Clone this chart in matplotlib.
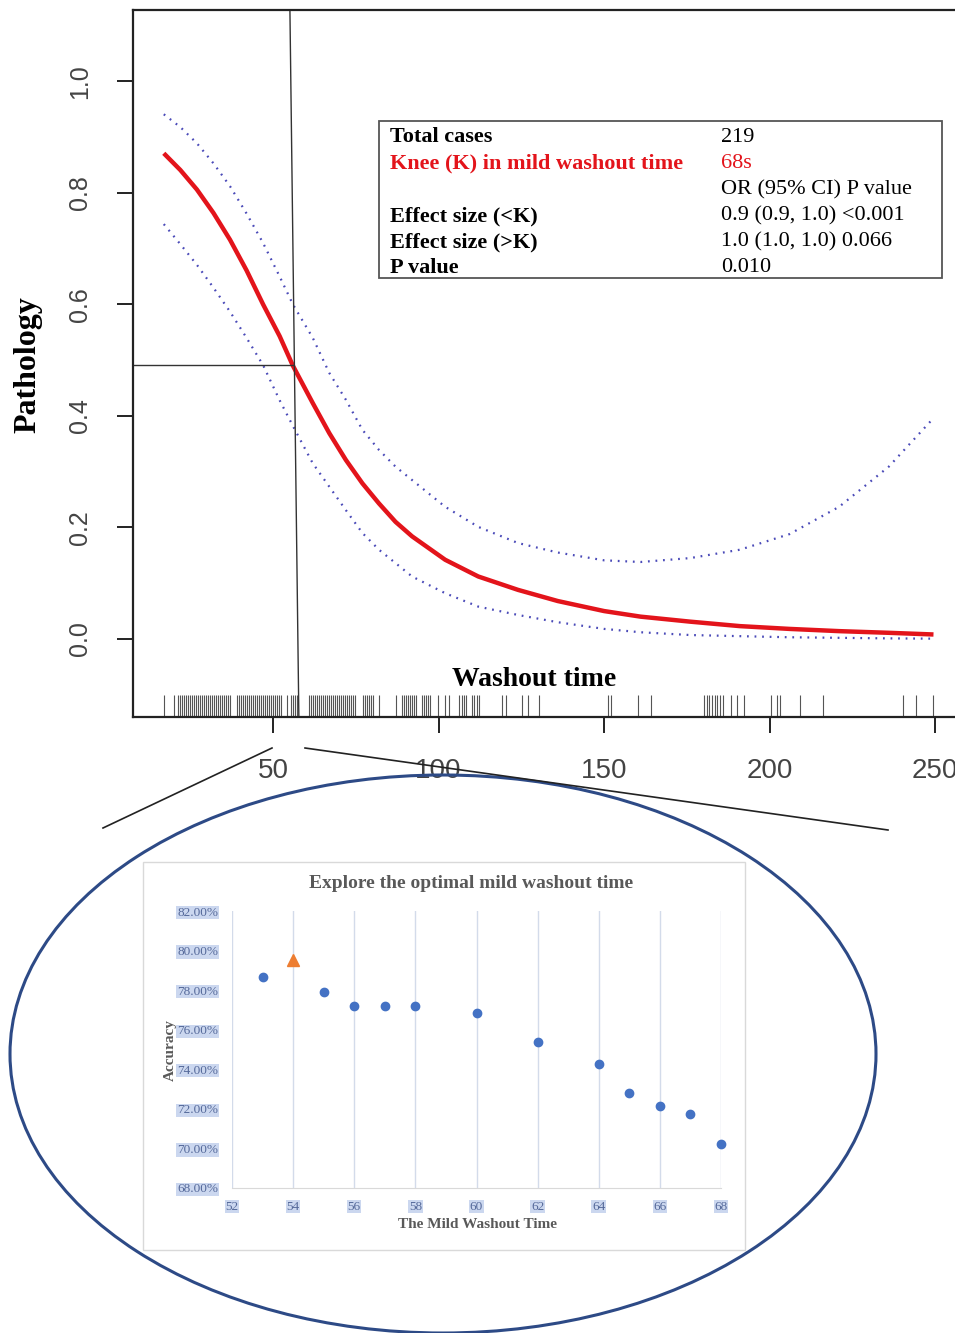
import numpy as np
import matplotlib
matplotlib.use("Agg")
import matplotlib.pyplot as plt
from matplotlib.patches import Ellipse, Rectangle
from matplotlib.lines import Line2D

# ==================================================
# DATOS
# ==================================================
# curva principal + IC 95%
wash_x   = [17, 22, 27, 32, 37, 42, 47, 52, 56, 62, 67, 72, 77, 82, 87, 92, 102, 112, 124,
            136, 150, 161, 176, 191, 206, 221, 236, 249.5]
path_fit = [0.871, 0.841, 0.806, 0.764, 0.716, 0.661, 0.600, 0.543, 0.490, 0.423, 0.369, 0.321,
            0.279, 0.243, 0.210, 0.184, 0.142, 0.112, 0.088, 0.068, 0.050, 0.040, 0.031, 0.023,
            0.018, 0.014, 0.011, 0.008]
ci_upper = [0.941, 0.918, 0.889, 0.853, 0.812, 0.763, 0.710, 0.650, 0.600, 0.540, 0.477, 0.429,
            0.375, 0.339, 0.309, 0.285, 0.237, 0.201, 0.172, 0.155, 0.141, 0.138, 0.145, 0.160,
            0.188, 0.237, 0.309, 0.396]
ci_lower = [0.744, 0.708, 0.671, 0.630, 0.587, 0.540, 0.491, 0.428, 0.382, 0.315, 0.273, 0.231,
            0.190, 0.160, 0.136, 0.112, 0.082, 0.058, 0.043, 0.030, 0.018, 0.012, 0.007, 0.005,
            0.003, 0.002, 0.001, 0.0005]

# rug (observaciones de washout time)
rug_x = [17.1, 20.1,
         21.4, 22.0, 22.6, 23.2, 23.8, 24.4, 25.0, 25.6, 26.2, 26.8, 27.4, 28.0, 28.6, 29.2,
         29.8, 30.4, 31.0, 31.6, 32.2, 32.8, 33.4, 34.0, 34.6, 35.2, 35.8, 36.4, 37.0,
         39.2, 39.8, 40.4, 41.0, 41.6, 42.2, 42.8, 43.4, 44.0, 44.6, 45.2, 45.8, 46.4, 47.0,
         47.6, 48.2, 48.8, 49.4, 50.0, 50.6, 51.2, 51.8, 52.4,
         54.1, 55.3, 55.9, 56.5, 57.1,
         61.0, 61.6, 62.2, 62.8, 63.4, 64.0, 64.6, 65.2, 65.8, 66.4, 67.0, 67.6, 68.2, 68.8,
         69.4, 70.0, 70.6, 71.2, 71.8, 72.4, 73.0, 73.6, 74.2, 74.8,
         77.1, 77.7, 78.3, 78.9, 79.5, 80.1, 82.1, 87.2,
         89.0, 89.6, 90.2, 90.8, 91.4, 92.0, 92.6, 93.2,
         95.0, 95.6, 96.2, 96.8, 97.4, 99.8, 101.8, 103.3,
         106.3, 107.0, 107.6, 108.3, 110.0, 110.8, 111.5, 112.3,
         119.1, 120.4, 125.1, 127.1, 130.2, 151.3, 152.0, 160.1, 164.3,
         180.2, 181.0, 181.8, 182.6, 183.4, 184.2, 185.0, 185.9, 188.3, 190.3, 192.3,
         200.4, 202.2, 203.0, 209.2, 216.1, 240.2, 244.2, 249.3]

knee_top_x, knee_bottom_x = 55.1, 57.8
knee_x, knee_y = 56.1, 0.491

table_left = ["Total cases", "Knee (K) in mild washout time", "",
              "Effect size (<K)", "Effect size (>K)", "P value"]
table_right = ["219", "68s", "OR (95% CI) P value",
               "0.9 (0.9, 1.0) <0.001", "1.0 (1.0, 1.0) 0.066", "0.010"]

# gráfico Excel del zoom
mild_time = [53, 55, 56, 57, 58, 60, 62, 64, 65, 66, 67, 68]
mild_acc  = [78.66, 77.9, 77.2, 77.2, 77.2, 76.84, 75.38, 74.25, 72.8, 72.15, 71.75, 70.2]
best_time, best_acc = 54, 79.5

W, H = 955, 1333
def fx(px):
    return px / W
def fy(py):
    return 1 - py / H

SERIF = ["Liberation Serif", "DejaVu Serif"]
NARROW = ["Liberation Sans Narrow", "Liberation Sans", "DejaVu Sans"]

fig = plt.figure(figsize=(W / 100, H / 100), dpi=100)

# ==================================================
# PANEL SUPERIOR (estilo R)
# ==================================================
ax = fig.add_axes([fx(133), fy(717), (955 - 133) / W, (717 - 10) / H])
ax.set_xlim(7.7, 256.0)
ax.set_ylim(-0.14, 1.128)

ax.plot(wash_x, path_fit, color="#e3141b", lw=3.2, solid_capstyle="butt", solid_joinstyle="round")
ax.plot(wash_x, ci_upper, color="#4a4ab8", lw=1.6, linestyle=(0, (0.8, 2.6)))
ax.plot(wash_x, ci_lower, color="#4a4ab8", lw=1.6, linestyle=(0, (0.8, 2.6)))

ax.vlines(rug_x, 0, 0.031, transform=ax.get_xaxis_transform(), color="#555555", lw=0.8)

ax.plot([knee_top_x, knee_bottom_x], [1.128, -0.14], color="#333333", lw=1.0)
ax.plot([7.7, knee_x], [knee_y, knee_y], color="#333333", lw=1.0)

for s in ["left", "bottom", "top"]:
    ax.spines[s].set_linewidth(1.6)
    ax.spines[s].set_color("#222222")
ax.spines["right"].set_visible(False)

ax.set_xticks([50, 100, 150, 200, 250])
ax.set_yticks([0.0, 0.2, 0.4, 0.6, 0.8, 1.0])
ax.set_yticklabels(["0.0", "0.2", "0.4", "0.6", "0.8", "1.0"])
ax.tick_params(axis="both", length=11.5, width=1.4, color="#222222", labelcolor="#444444")
ax.tick_params(axis="x", pad=18, labelsize=20)
ax.tick_params(axis="y", pad=18, labelsize=18)
for lab in ax.get_xticklabels():
    lab.set_family(NARROW)
for lab in ax.get_yticklabels():
    lab.set_family(NARROW)
    lab.set_rotation(90)
    lab.set_va("center")

fig.text(fx(28), fy(365), "Pathology", rotation=90, ha="center", va="center",
         family=SERIF, weight="bold", fontsize=23)
fig.text(fx(534), fy(679), "Washout time", ha="center", va="center",
         family=SERIF, weight="bold", fontsize=20)

# tabla
fig.add_artist(Rectangle((fx(379), fy(278)), (942 - 379) / W, (278 - 121) / H,
                         transform=fig.transFigure, fill=False,
                         edgecolor="#555555", lw=1.3))
row_y = [137, 163, 190, 216, 242, 268]
for i, (lt, rt) in enumerate(zip(table_left, table_right)):
    col = "#e3141b" if i == 1 else "black"
    fig.text(fx(390), fy(row_y[i]), lt, ha="left", va="center", family=SERIF,
             weight="bold", fontsize=16, color=col)
    fig.text(fx(721), fy(row_y[i]), rt, ha="left", va="center", family=SERIF,
             fontsize=16, color=col)

# lineas de zoom y elipse
fig.add_artist(Line2D([fx(272), fx(103)], [fy(748), fy(828)], color="#222222", lw=1.2))
fig.add_artist(Line2D([fx(305), fx(888)], [fy(748), fy(830)], color="#222222", lw=1.2))
fig.add_artist(Ellipse((fx(443), fy(1054)), 866 / W, 558 / H, transform=fig.transFigure,
                       fill=False, edgecolor="#2d4a86", lw=2.2))

# ==================================================
# PANEL INFERIOR (gráfico Excel)
# ==================================================
fig.add_artist(Rectangle((fx(143), fy(1250)), (745 - 143) / W, (1250 - 862) / H,
                         transform=fig.transFigure, facecolor="white",
                         edgecolor="#d9d9d9", lw=1.0, zorder=-1))

ax2 = fig.add_axes([fx(232), fy(1188), (721 - 232) / W, (1188 - 911) / H])
ax2.set_facecolor("none")
ax2.set_xlim(52, 68)
ax2.set_ylim(68, 82)
ax2.set_xticks(range(52, 69, 2))
ax2.set_yticks(range(68, 83, 2))
ax2.set_yticklabels([f"{v:.2f}%" for v in range(68, 83, 2)])
ax2.grid(axis="x", color="#d3dbea", lw=1.0)
ax2.set_axisbelow(True)
for s in ["left", "right", "top"]:
    ax2.spines[s].set_visible(False)
ax2.spines["bottom"].set_color("#d9d9d9")
ax2.tick_params(axis="both", length=0, labelsize=9.5, labelcolor="#55699a")
ax2.tick_params(axis="y", pad=10)
ax2.tick_params(axis="x", pad=9)
for lab in ax2.get_xticklabels() + ax2.get_yticklabels():
    lab.set_family(SERIF)
    lab.set_bbox(dict(facecolor="#cbd7ef", edgecolor="none", pad=0.5))

ax2.plot(mild_time, mild_acc, "o", color="#4472c4", ms=6, zorder=3, clip_on=False)
ax2.plot([best_time], [best_acc], "^", color="#ed7d31", ms=8, zorder=3)

fig.text(fx(471), fy(884), "Explore the optimal mild washout time", ha="center", va="center",
         family=SERIF, weight="bold", fontsize=14, color="#595959")
fig.text(fx(477), fy(1225), "The Mild Washout Time", ha="center", va="center",
         family=SERIF, weight="bold", fontsize=11, color="#595959")
fig.text(fx(170), fy(1050), "Accuracy", rotation=90, ha="center", va="center",
         family=SERIF, weight="bold", fontsize=11, color="#595959")

fig.savefig("out.png", dpi=100)
